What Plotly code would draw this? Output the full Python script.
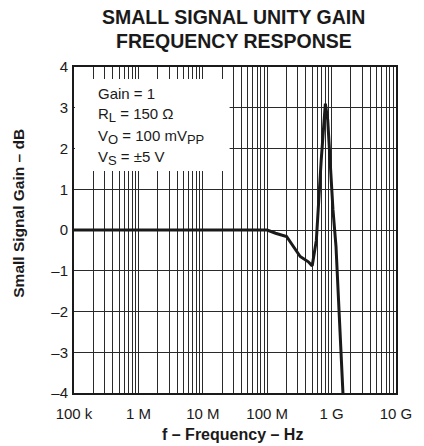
import plotly.graph_objects as go

freq_hz = [1e5, 1e6, 1e7, 1e8, 1.35e8, 2.0e8, 3.25e8, 4.35e8, 5.0e8, 5.8e8, 6.9e8, 8.0e8, 8.7e8, 1.05e9, 1.17e9, 1.5e9]
gain_db = [0.0, 0.0, 0.0, 0.0, -0.08, -0.16, -0.65, -0.78, -0.88, -0.25, 1.72, 3.1, 2.7, 0.5, -0.4, -4.0]

x_tickvals = [1e5, 1e6, 1e7, 1e8, 1e9, 1e10]
x_ticktext = ["100 k", "1 M", "10 M", "100 M", "1 G", "10 G"]
y_tickvals = [4, 3, 2, 1, 0, -1, -2, -3, -4]
y_ticktext = ["4", "3", "2", "1", "0", "–1", "–2", "–3", "–4"]

SUB = "<sub><span style='font-size:13px'>{}</span></sub>"
conditions = ["Gain = 1",
              "R" + SUB.format("L") + " = 150 Ω",
              "V" + SUB.format("O") + " = 100 mV" + SUB.format("PP"),
              "V" + SUB.format("S") + " = ±5 V"]

FONT = "Liberation Sans, Arial, sans-serif"
INK = "#1a1a1a"

# page is offset by the default 8px body margin; plot area lands at x 74..403, y 67..393
W, H = 416, 438
L, T, PW, PH = 66, 59, 329, 326


def px(x):
    return (x - 74) / PW


def py(y):
    return (393 - y) / PH


fig = go.Figure()
fig.add_trace(go.Scatter(x=freq_hz, y=gain_db, mode="lines",
                         line=dict(color=INK, width=3), showlegend=False))

fig.update_layout(
    width=W, height=H,
    margin=dict(l=L, r=W - L - PW, t=T, b=H - T - PH),
    paper_bgcolor="white", plot_bgcolor="white",
    font=dict(family=FONT, size=15, color=INK),
    xaxis=dict(type="log", range=[5, 10], tickvals=x_tickvals, ticktext=x_ticktext,
               showgrid=True, gridcolor="#2a2a2a", gridwidth=1,
               minor=dict(dtick="D1", showgrid=True, gridcolor="#2a2a2a", gridwidth=1, ticks=""),
               showline=True, linecolor=INK, linewidth=2, mirror=True,
               ticks="outside", ticklen=6, tickcolor="rgba(0,0,0,0)",
               zeroline=False, tickfont=dict(size=15)),
    yaxis=dict(range=[-4, 4], tickvals=y_tickvals, ticktext=y_ticktext,
               showgrid=True, gridcolor="#2a2a2a", gridwidth=1,
               showline=True, linecolor=INK, linewidth=2, mirror=True,
               ticks="outside", ticklen=1, tickcolor="rgba(0,0,0,0)",
               zeroline=False, tickfont=dict(size=15)),
)

# white box behind conditions text
fig.add_shape(type="rect", xref="paper", yref="paper", x0=px(75), x1=px(233), y0=py(171), y1=py(79),
              fillcolor="white", line=dict(width=0), layer="above")

ys = [93, 115, 137, 158]
for txt, yy in zip(conditions, ys):
    fig.add_annotation(text=txt, xref="paper", yref="paper", x=px(96), y=py(yy),
                       xanchor="left", yanchor="middle", showarrow=False,
                       font=dict(size=15, family=FONT, color=INK))

fig.add_annotation(text="<b>SMALL SIGNAL UNITY GAIN</b>", xref="paper", yref="paper",
                   x=px(236.5), y=py(17), xanchor="center", yanchor="middle",
                   showarrow=False, font=dict(size=19.5, family=FONT, color=INK))
fig.add_annotation(text="<b>FREQUENCY RESPONSE</b>", xref="paper", yref="paper",
                   x=px(237.5), y=py(41), xanchor="center", yanchor="middle",
                   showarrow=False, font=dict(size=19.5, family=FONT, color=INK))
fig.add_annotation(text="<b>f – Frequency – Hz</b>", xref="paper", yref="paper",
                   x=px(236), y=py(434), xanchor="center", yanchor="middle",
                   showarrow=False, font=dict(size=16, family=FONT, color=INK))
fig.add_annotation(text="<b>Small Signal Gain – dB</b>", xref="paper", yref="paper",
                   x=px(16.5), y=py(213), xanchor="center", yanchor="middle",
                   textangle=-90, showarrow=False, font=dict(size=15.5, family=FONT, color=INK))

fig.write_html("out.html")
